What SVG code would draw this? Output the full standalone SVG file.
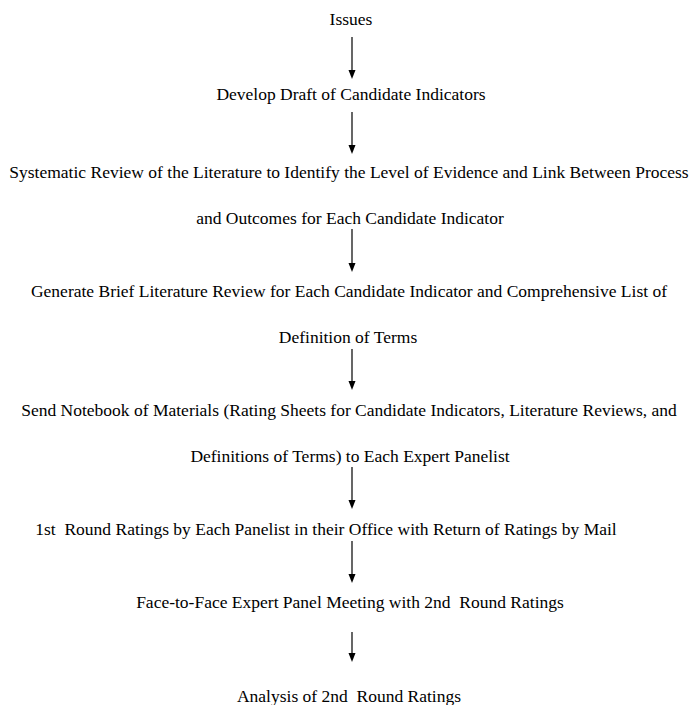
<svg xmlns="http://www.w3.org/2000/svg" width="699" height="705" viewBox="0 0 699 705">
<defs>
<style>
text{font-family:"Liberation Serif","Times New Roman",serif;font-size:17.5px;fill:#000;text-anchor:middle}
.c line{stroke:#000;stroke-width:1.2}
.c path{fill:#000}
</style>
</defs>
<rect width="699" height="705" fill="#fff"/>
<g id="n1"><text x="351" y="25">Issues</text></g>
<g id="n2"><text x="351" y="100">Develop Draft of Candidate Indicators</text></g>
<g id="n3"><text x="349" y="178">Systematic Review of the Literature to Identify the Level of Evidence and Link Between Process</text><text x="350" y="224">and Outcomes for Each Candidate Indicator</text></g>
<g id="n4"><text x="349" y="297">Generate Brief Literature Review for Each Candidate Indicator and Comprehensive List of</text><text x="348" y="343">Definition of Terms</text></g>
<g id="n5"><text x="349" y="416">Send Notebook of Materials (Rating Sheets for Candidate Indicators, Literature Reviews, and</text><text x="350" y="462">Definitions of Terms) to Each Expert Panelist</text></g>
<g id="n6"><text x="326" y="535" xml:space="preserve">1st  Round Ratings by Each Panelist in their Office with Return of Ratings by Mail</text></g>
<g id="n7"><text x="350" y="608" xml:space="preserve">Face-to-Face Expert Panel Meeting with 2nd  Round Ratings</text></g>
<g id="n8"><text x="349" y="702" xml:space="preserve">Analysis of 2nd  Round Ratings</text></g>
<g class="c" id="connectors">
<line x1="352" y1="37" x2="352" y2="70"/><path d="M348.5,70 L355.5,70 L352,79 Z"/>
<line x1="352" y1="112" x2="352" y2="145"/><path d="M348.5,145 L355.5,145 L352,154 Z"/>
<line x1="352" y1="229" x2="352" y2="263"/><path d="M348.5,263 L355.5,263 L352,272 Z"/>
<line x1="352" y1="349" x2="352" y2="381"/><path d="M348.5,381 L355.5,381 L352,390 Z"/>
<line x1="352" y1="467" x2="352" y2="500"/><path d="M348.5,500 L355.5,500 L352,509 Z"/>
<line x1="352" y1="541" x2="352" y2="574"/><path d="M348.5,574 L355.5,574 L352,583 Z"/>
<line x1="352" y1="632" x2="352" y2="653"/><path d="M348.5,653 L355.5,653 L352,662 Z"/>
</g>
</svg>
